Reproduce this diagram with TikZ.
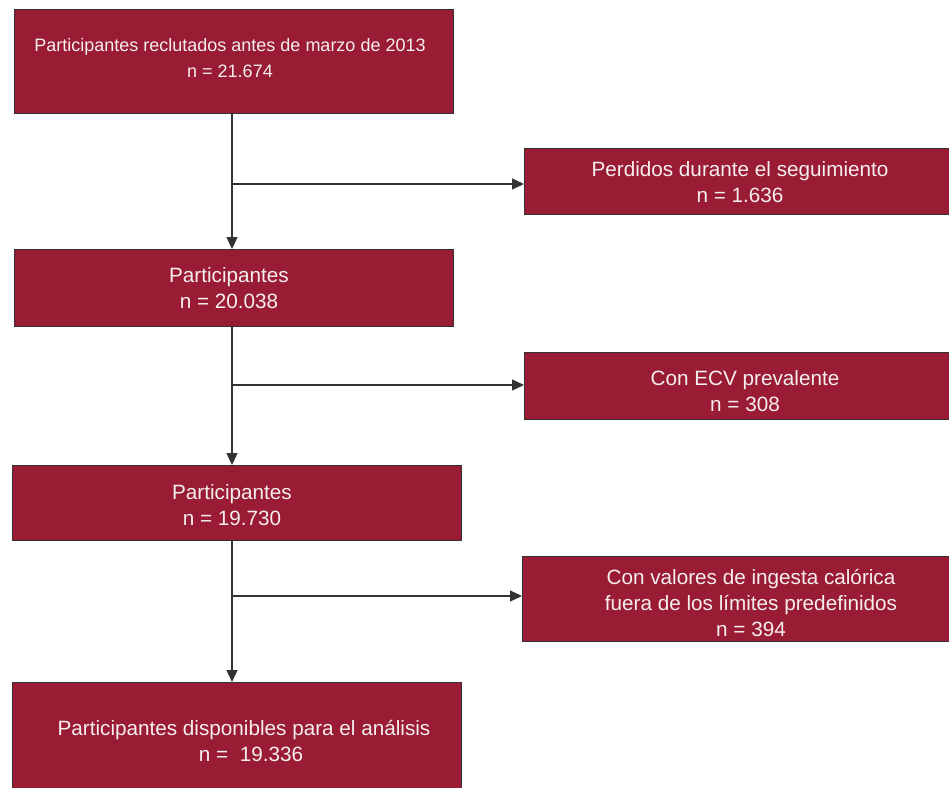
\documentclass[tikz,border=0pt]{standalone}
\usepackage{fontspec}
\setmainfont{Liberation Sans}
\usetikzlibrary{arrows.meta}
\definecolor{boxred}{HTML}{9A1B34}
\definecolor{edge}{HTML}{333333}
\definecolor{txt}{HTML}{F4EEEE}
\tikzset{
  box/.style={draw=edge, line width=1pt, fill=boxred, anchor=north west, inner sep=0pt, rectangle},
  lbl/.style={text=txt, align=center, inner sep=0pt, font=\fontsize{20.7}{26}\selectfont},
  lblsmall/.style={lbl, font=\fontsize{18}{26}\selectfont},
  arr/.style={draw=edge, line width=1.2pt, -{Triangle[length=12pt,width=11pt]}},
  ln/.style={draw=edge, line width=1.2pt}
}
\begin{document}
\begin{tikzpicture}[x=1pt,y=-1pt]
\useasboundingbox (0,0) rectangle (949,787);
% boxes
\node[box, minimum width=439pt, minimum height=104pt] (b1) at (14,9) {};
\node[box, minimum width=429pt, minimum height=66pt] (b2) at (524,148) {};
\node[box, minimum width=439pt, minimum height=77pt] (b3) at (14,249) {};
\node[box, minimum width=429pt, minimum height=67pt] (b4) at (524,352) {};
\node[box, minimum width=449pt, minimum height=75pt] (b5) at (12,465) {};
\node[box, minimum width=431pt, minimum height=85pt] (b6) at (522,556) {};
\node[box, minimum width=449pt, minimum height=110pt] (b7) at (12,682) {};
% texts
\node[lblsmall] (t1) at (230,58) {Participantes reclutados antes de marzo de 2013\\n = 21.674};
\node[lbl] (t2) at (740,182) {Perdidos durante el seguimiento\\n = 1.636};
\node[lbl] (t3) at (229,288) {Participantes\\n = 20.038};
\node[lbl] (t4) at (745,391) {Con ECV prevalente\\n = 308};
\node[lbl] (t5) at (232,505) {Participantes\\n = 19.730};
\node[lbl] (t6) at (751,603) {Con valores de ingesta calórica\\fuera de los límites predefinidos\\n = 394};
\node[lbl] (t7) at (244,741) {Participantes disponibles para el análisis\\\hspace*{14pt}n = \ 19.336};
% junction coordinates
\coordinate (j1) at (232,184);
\coordinate (j2) at (232,385);
\coordinate (j3) at (232,596);
% connectors
\draw[arr] (b1.south -| j1) -- (b3.north -| j1);
\draw[arr] (j1) -- (b2.west |- j1);
\draw[arr] (b3.south -| j2) -- (b5.north -| j2);
\draw[arr] (j2) -- (b4.west |- j2);
\draw[arr] (b5.south -| j3) -- (b7.north -| j3);
\draw[arr] (j3) -- (b6.west |- j3);
\end{tikzpicture}
\end{document}
